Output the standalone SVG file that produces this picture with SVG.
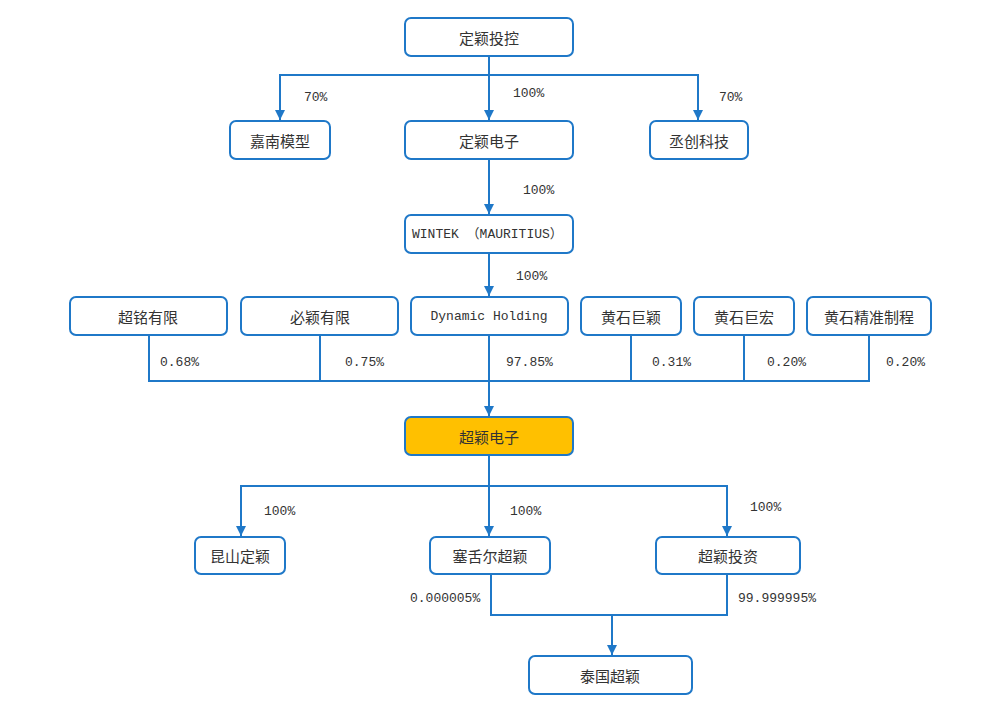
<svg xmlns="http://www.w3.org/2000/svg" width="999" height="720" viewBox="0 0 999 720">
<style>
.box{fill:#fff;stroke:#1f78c8;stroke-width:2}
.gold{fill:#ffc000;stroke:#1f78c8;stroke-width:2}
.cn{font-family:"Noto Sans CJK SC","Noto Sans",sans-serif;font-size:15px;fill:#333;text-anchor:middle;dominant-baseline:central}
.en{font-family:"Liberation Mono","Noto Sans CJK SC",monospace;font-size:13px;fill:#333;dominant-baseline:central}
.pct{font-family:"Liberation Mono",monospace;font-size:13px;fill:#333;dominant-baseline:central}
.ln{fill:none;stroke:#1f78c8;stroke-width:2}
</style>
<defs>
<marker id="arr" viewBox="0 0 10 10" refX="10" refY="5" markerWidth="10" markerHeight="10" markerUnits="userSpaceOnUse" orient="auto">
<path d="M0,0 L10,5 L0,10 z" fill="#1f78c8"/>
</marker>
</defs>
<rect width="999" height="720" fill="#fff"/>
<g id="connectors">
<path class="ln" d="M489,56 V120" marker-end="url(#arr)"/>
<path class="ln" d="M280,120 V75 H698 V120" />
<path class="ln" d="M280,76 V120" marker-end="url(#arr)"/>
<path class="ln" d="M698,76 V120" marker-end="url(#arr)"/>
<path class="ln" d="M489,159 V214" marker-end="url(#arr)"/>
<path class="ln" d="M489,253 V296" marker-end="url(#arr)"/>
<path class="ln" d="M149,335 V381 H869 V335"/>
<path class="ln" d="M320,335 V381"/>
<path class="ln" d="M631,335 V381"/>
<path class="ln" d="M744,335 V381"/>
<path class="ln" d="M489,335 V416" marker-end="url(#arr)"/>
<path class="ln" d="M489,455 V536" marker-end="url(#arr)"/>
<path class="ln" d="M241,536 V486 H727 V536"/>
<path class="ln" d="M241,487 V536" marker-end="url(#arr)"/>
<path class="ln" d="M727,487 V536" marker-end="url(#arr)"/>
<path class="ln" d="M491,574 V615 H727 V574"/>
<path class="ln" d="M612,615 V655" marker-end="url(#arr)"/>
<g>
<text class="pct" x="304" y="97">70%</text>
<text class="pct" x="513" y="93">100%</text>
<text class="pct" x="719" y="97">70%</text>
<text class="pct" x="523" y="190">100%</text>
<text class="pct" x="516" y="276">100%</text>
<text class="pct" x="160" y="362">0.68%</text>
<text class="pct" x="345" y="362">0.75%</text>
<text class="pct" x="506" y="362">97.85%</text>
<text class="pct" x="652" y="362">0.31%</text>
<text class="pct" x="767" y="362">0.20%</text>
<text class="pct" x="886" y="362">0.20%</text>
<text class="pct" x="264" y="511">100%</text>
<text class="pct" x="510" y="511">100%</text>
<text class="pct" x="750" y="507">100%</text>
<text class="pct" x="410" y="598">0.000005%</text>
<text class="pct" x="738" y="598">99.999995%</text>
</g>
</g>
<g id="n-dingying-konggu"><rect class="box" x="405" y="18" width="168" height="38" rx="6"/><text class="cn" x="489" y="37">定颖投控</text></g>
<g id="n-jianan"><rect class="box" x="230" y="121" width="100" height="38" rx="6"/><text class="cn" x="280" y="140">嘉南模型</text></g>
<g id="n-dingying-dianzi"><rect class="box" x="405" y="121" width="168" height="38" rx="6"/><text class="cn" x="489" y="140">定颖电子</text></g>
<g id="n-chengchuang"><rect class="box" x="650" y="121" width="98" height="38" rx="6"/><text class="cn" x="699" y="140">丞创科技</text></g>
<g id="n-wintek"><rect class="box" x="405" y="215" width="168" height="38" rx="6"/><text class="en" x="412" y="234">WINTEK （MAURITIUS）</text></g>
<g id="n-chaoming"><rect class="box" x="70" y="297" width="157" height="38" rx="6"/><text class="cn" x="148" y="316">超铭有限</text></g>
<g id="n-biying"><rect class="box" x="241" y="297" width="157" height="38" rx="6"/><text class="cn" x="320" y="316">必颖有限</text></g>
<g id="n-dynamic"><rect class="box" x="411" y="297" width="157" height="38" rx="6"/><text class="en" x="489" y="316" text-anchor="middle">Dynamic Holding</text></g>
<g id="n-hsjy"><rect class="box" x="581" y="297" width="100" height="38" rx="6"/><text class="cn" x="631" y="316">黄石巨颖</text></g>
<g id="n-hsjh"><rect class="box" x="694" y="297" width="100" height="38" rx="6"/><text class="cn" x="744" y="316">黄石巨宏</text></g>
<g id="n-hsjz"><rect class="box" x="807" y="297" width="124" height="38" rx="6"/><text class="cn" x="869" y="316">黄石精准制程</text></g>
<g id="n-chaoying"><rect class="gold" x="405" y="417" width="168" height="38" rx="6"/><text class="cn" x="489" y="436">超颖电子</text></g>
<g id="n-kunshan"><rect class="box" x="195" y="537" width="90" height="37" rx="6"/><text class="cn" x="240" y="555">昆山定颖</text></g>
<g id="n-seychelles"><rect class="box" x="430" y="537" width="120" height="37" rx="6"/><text class="cn" x="490" y="555">塞舌尔超颖</text></g>
<g id="n-touzi"><rect class="box" x="656" y="537" width="144" height="37" rx="6"/><text class="cn" x="728" y="555">超颖投资</text></g>
<g id="n-thailand"><rect class="box" x="529" y="656" width="163" height="38" rx="6"/><text class="cn" x="610" y="675">泰国超颖</text></g>
</svg>
